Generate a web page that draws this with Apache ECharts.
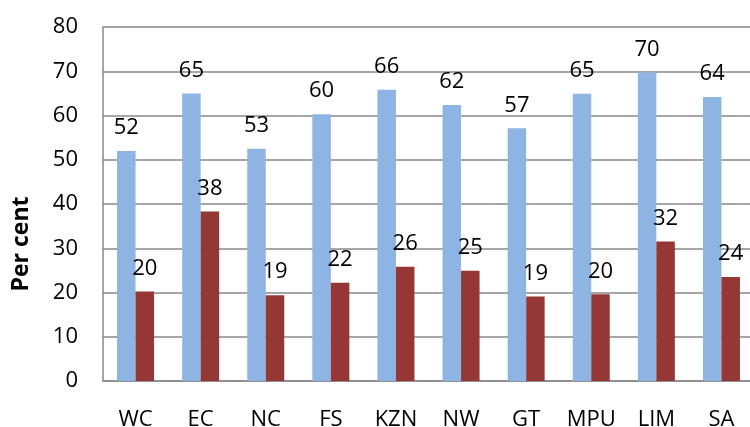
<!DOCTYPE html>
<html>
<head>
<meta charset="utf-8">
<script src="https://cdn.jsdelivr.net/npm/echarts@6/dist/echarts.min.js"></script>
<style>
  html, body { margin: 0; padding: 0; background: #fff; }
  #chart { width: 750px; height: 427px; }
</style>
</head>
<body>
<div id="chart"></div>
<script>
// provinces
const categories = ['WC', 'EC', 'NC', 'FS', 'KZN', 'NW', 'GT', 'MPU', 'LIM', 'SA']
// per cent values
const seriesA = [52.0, 65.0, 52.5, 60.3, 65.8, 62.4, 57.1, 64.9, 69.7, 64.2]
const seriesB = [20.2, 38.3, 19.4, 22.2, 25.8, 24.9, 19.1, 19.6, 31.5, 23.5]

const font = 'Open Sans, Liberation Sans, sans-serif'
const gridColor = '#888888'

function barLabel () {
  return {
    show: true,
    position: 'top',
    distance: 12,
    color: '#000',
    fontFamily: font,
    fontSize: 22,
    formatter: p => Math.round(p.value)
  }
}

const chart = echarts.init(document.getElementById('chart'))
chart.setOption({
  animation: false,
  grid: { left: 103, top: 27, width: 651, bottom: 46, containLabel: false, outerBoundsMode: 'none' },
  xAxis: {
    type: 'category',
    data: categories,
    axisLine: { lineStyle: { color: gridColor, width: 1.5 } },
    axisTick: { show: false },
    axisLabel: { color: '#000', fontFamily: font, fontSize: 22, margin: 28 }
  },
  yAxis: {
    type: 'value',
    min: 0,
    max: 80,
    interval: 10,
    name: 'Per cent',
    nameLocation: 'middle',
    nameGap: 70,
    nameTextStyle: { color: '#000', fontFamily: font, fontSize: 23, fontWeight: 'bold', padding: [0, 80, 0, 0] },
    axisLine: { show: true, lineStyle: { color: gridColor, width: 1.5 } },
    axisTick: { show: false },
    axisLabel: { color: '#000', fontFamily: font, fontSize: 22, margin: 25 },
    splitLine: { lineStyle: { color: gridColor, width: 1.5 } }
  },
  series: [
    {
      type: 'bar',
      data: seriesA,
      barWidth: 18.5,
      barGap: '0%',
      itemStyle: { color: '#8eb4e3' },
      label: barLabel()
    },
    {
      type: 'bar',
      data: seriesB,
      barWidth: 18.5,
      itemStyle: { color: '#953735' },
      label: barLabel()
    }
  ]
})
</script>
</body>
</html>
